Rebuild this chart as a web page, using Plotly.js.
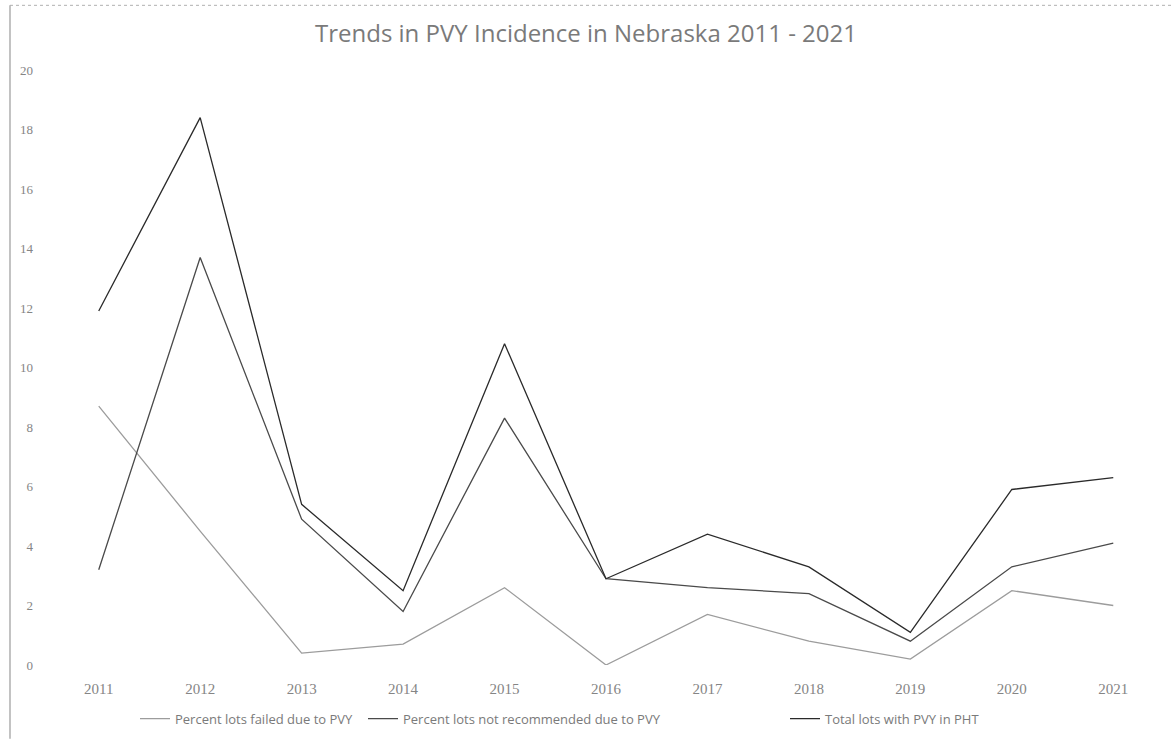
<!DOCTYPE html>
<html>
<head>
<meta charset="utf-8">
<script src="https://cdn.plot.ly/plotly-3.0.1.min.js"></script>
<style>html,body{margin:0;padding:0;background:#fff;}#chart{width:1172px;height:742px;}</style>
</head>
<body>
<div id="chart"></div>
<script>
const years = ["2011","2012","2013","2014","2015","2016","2017","2018","2019","2020","2021"];
const failed = [8.7, 4.5, 0.4, 0.7, 2.6, 0.0, 1.7, 0.8, 0.2, 2.5, 2.0];
const notRecommended = [3.2, 13.7, 4.9, 1.8, 8.3, 2.9, 2.6, 2.4, 0.8, 3.3, 4.1];
const totalLots = [11.9, 18.4, 5.4, 2.5, 10.8, 2.9, 4.4, 3.3, 1.1, 5.9, 6.3];
const seriesNames = ["Percent lots failed due to PVY", "Percent lots not recommended due to PVY", "Total lots with PVY in PHT"];
const yTicks = [0, 2, 4, 6, 8, 10, 12, 14, 16, 18, 20];

const colors = ["#9c9c9c", "#4a4a4a", "#2a2a2a"];
const legendIds = ["legend", "legend2", "legend3"];
const data = [failed, notRecommended, totalLots].map((vals, i) => ({
  type: "scatter",
  mode: "lines",
  x: years,
  y: vals,
  name: seriesNames[i],
  legend: legendIds[i],
  line: {color: colors[i], width: 1.3},
  hoverinfo: "skip"
}));

const PL = 48, PR = 1164, PT = 70, PB = 668;
const pw = PR - PL, ph = PB - PT;
const legendY = (PB - 722) / ph;
function legendAt(px) {
  return {
    orientation: "h",
    x: (px - 5 - PL) / pw, xanchor: "left",
    y: legendY, yanchor: "middle",
    font: {family: "Open Sans", size: 13, color: "#7a7a7a"},
    itemwidth: 30,
    bgcolor: "rgba(0,0,0,0)"
  };
}

const layout = {
  width: 1172,
  height: 742,
  margin: {l: PL, r: 1172 - PR, t: PT, b: 742 - PB},
  paper_bgcolor: "#ffffff",
  plot_bgcolor: "#ffffff",
  title: {
    text: "Trends in PVY Incidence in Nebraska 2011 - 2021",
    font: {family: "Open Sans", size: 24, color: "#7a7a7a"},
    x: 0.5, xanchor: "center",
    y: 1 - 34/742, yanchor: "middle"
  },
  xaxis: {
    type: "category",
    range: [-0.5, 10.5],
    showgrid: false, zeroline: false, showline: false,
    ticks: "",
    ticklabelstandoff: 13,
    tickfont: {family: "Liberation Serif", size: 15, color: "#858585"},
    fixedrange: true
  },
  yaxis: {
    range: [0, 20],
    tickvals: yTicks,
    ticktext: yTicks.map(String),
    showgrid: false, zeroline: false, showline: false,
    ticks: "",
    ticklabelstandoff: 14,
    tickfont: {family: "Liberation Serif", size: 13, color: "#858585"},
    fixedrange: true
  },
  showlegend: true,
  legend: legendAt(140),
  legend2: legendAt(368),
  legend3: legendAt(790),
  shapes: [
    {type: "line", xref: "paper", yref: "paper", x0: (10 - PL) / pw, x1: (10 - PL) / pw, y0: (PB - 742) / ph, y1: (PB - 5) / ph, line: {color: "#9a9a9a", width: 1.2}},
    {type: "line", xref: "paper", yref: "paper", x0: (10 - PL) / pw, x1: (1172 - PL) / pw, y0: (PB - 5) / ph, y1: (PB - 5) / ph, line: {color: "#b0b0b0", width: 1, dash: "dot"}}
  ]
};

Plotly.newPlot("chart", data, layout, {displayModeBar: false, staticPlot: true});
</script>
</body>
</html>
